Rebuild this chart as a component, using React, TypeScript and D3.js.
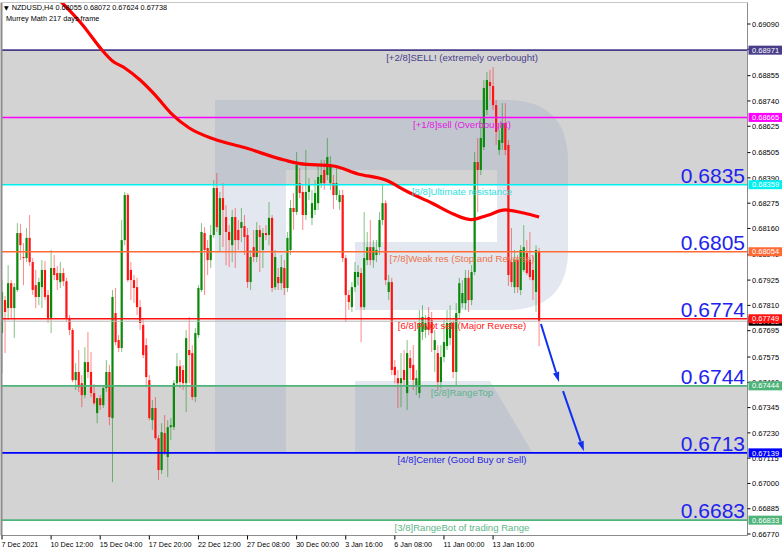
import { scaleLinear, line, curveMonotoneX } from "d3";

// NZDUSD H4, one entry per bar (176 bars)
const OPEN = [
  0.67684, 0.67834, 0.67798, 0.67911, 0.67798, 0.6788, 0.68139, 0.6803, 0.68025, 0.68117,
  0.68007, 0.67902, 0.67848, 0.67893, 0.67971, 0.67857, 0.67753, 0.6798, 0.67957, 0.67916,
  0.67957, 0.6792, 0.67753, 0.67698, 0.6747, 0.67507, 0.67456, 0.67402, 0.67552, 0.67507,
  0.67411, 0.6732, 0.67388, 0.67356, 0.67434, 0.67507, 0.67297, 0.67775, 0.67652, 0.67616,
  0.68107, 0.68312, 0.67971, 0.67925, 0.67893, 0.67802, 0.67721, 0.67629, 0.6747, 0.67288,
  0.67343, 0.67206, 0.67061, 0.67229, 0.6712, 0.67256, 0.67256, 0.67456, 0.67533, 0.67516,
  0.67456, 0.67607, 0.67593, 0.67393, 0.67675, 0.6788, 0.68139, 0.68071, 0.68016, 0.6813,
  0.68344, 0.6813, 0.68298, 0.68212, 0.68144, 0.68084, 0.68212, 0.68153, 0.68162, 0.68171,
  0.6813, 0.67916, 0.68075, 0.6803, 0.68153, 0.68062, 0.68139, 0.6813, 0.68208, 0.67893,
  0.67939, 0.67911, 0.6798, 0.67889, 0.68062, 0.68253, 0.68235, 0.68366, 0.68326, 0.68221,
  0.68326, 0.68208, 0.68244, 0.68275, 0.68366, 0.68426, 0.68403, 0.68366, 0.68366, 0.68312,
  0.6828, 0.68312, 0.68025, 0.67857, 0.67802, 0.67893, 0.67939, 0.67957, 0.67802, 0.68016,
  0.68075, 0.68016, 0.68039, 0.68075, 0.68198, 0.68275, 0.67871, 0.67916, 0.6753, 0.67479,
  0.67456, 0.67516, 0.67411, 0.6757, 0.67539, 0.67447, 0.67411, 0.67689, 0.67698, 0.67757,
  0.67743, 0.67607, 0.67593, 0.67461, 0.67575, 0.67625, 0.67662, 0.6773, 0.67507, 0.67775,
  0.6782, 0.6782, 0.67935, 0.67834, 0.67962, 0.68462, 0.68426, 0.6853, 0.68699, 0.68826,
  0.68808, 0.68721, 0.68517, 0.68549, 0.6864, 0.6854, 0.68007, 0.67893, 0.68016, 0.6788,
  0.67971, 0.68048, 0.68016, 0.67971, 0.67871, 0.68055,
];
const HIGH = [
  0.67925, 0.67853, 0.67993, 0.67925, 0.67911, 0.68184, 0.6818, 0.68093, 0.68162, 0.68221,
  0.68025, 0.67971, 0.67935, 0.68016, 0.68012, 0.6788, 0.68062, 0.68039, 0.67989, 0.68007,
  0.6798, 0.67935, 0.67766, 0.67707, 0.67547, 0.67607, 0.67493, 0.6762, 0.67689, 0.67598,
  0.67452, 0.67388, 0.67402, 0.67443, 0.67561, 0.67539, 0.6788, 0.67889, 0.67675, 0.68198,
  0.68326, 0.68321, 0.68007, 0.67948, 0.67935, 0.67834, 0.67753, 0.67661, 0.67493, 0.67379,
  0.67393, 0.6722, 0.67274, 0.67311, 0.67288, 0.67297, 0.6747, 0.67593, 0.67561, 0.67539,
  0.67698, 0.67757, 0.67629, 0.67707, 0.67902, 0.68184, 0.68166, 0.68107, 0.68175, 0.6838,
  0.68412, 0.68326, 0.68366, 0.68266, 0.68175, 0.68244, 0.68253, 0.68198, 0.68253, 0.68221,
  0.68162, 0.68062, 0.68153, 0.68189, 0.68175, 0.68162, 0.68175, 0.6828, 0.68221, 0.68062,
  0.6798, 0.68039, 0.68016, 0.68144, 0.68289, 0.68321, 0.68508, 0.68435, 0.68357, 0.68517,
  0.68389, 0.68335, 0.6838, 0.68449, 0.68471, 0.68471, 0.68571, 0.68489, 0.68403, 0.6844,
  0.68335, 0.68335, 0.68039, 0.6788, 0.67916, 0.68007, 0.67993, 0.6798, 0.68235, 0.68144,
  0.68198, 0.68107, 0.68107, 0.68235, 0.68357, 0.68289, 0.67948, 0.67935, 0.67561, 0.67516,
  0.67593, 0.67607, 0.67652, 0.67607, 0.67629, 0.67516, 0.67789, 0.67811, 0.67766, 0.67802,
  0.6778, 0.67698, 0.67629, 0.67629, 0.67743, 0.67789, 0.67811, 0.67753, 0.6782, 0.67935,
  0.67925, 0.67971, 0.67971, 0.67993, 0.68508, 0.68571, 0.68662, 0.68835, 0.68872, 0.68881,
  0.68894, 0.68744, 0.68608, 0.6873, 0.6873, 0.68562, 0.68162, 0.68062, 0.68039, 0.68084,
  0.68175, 0.68107, 0.68144, 0.68039, 0.68084, 0.68072,
];
const LOW = [
  0.67502, 0.67593, 0.67743, 0.67753, 0.67662, 0.67871, 0.68016, 0.67902, 0.68007, 0.67989,
  0.67857, 0.67798, 0.67811, 0.67798, 0.67834, 0.6773, 0.67684, 0.67925, 0.6788, 0.67889,
  0.67898, 0.67734, 0.67675, 0.67461, 0.67425, 0.67416, 0.67347, 0.67388, 0.67479, 0.67393,
  0.67356, 0.67274, 0.67334, 0.67343, 0.67416, 0.67265, 0.67006, 0.67629, 0.67598, 0.67598,
  0.68084, 0.67916, 0.67834, 0.67821, 0.67766, 0.67698, 0.6757, 0.67438, 0.67288, 0.67243,
  0.67197, 0.67015, 0.67043, 0.67129, 0.67029, 0.67197, 0.67243, 0.67447, 0.67434, 0.67425,
  0.67325, 0.67456, 0.67379, 0.6737, 0.67662, 0.67871, 0.67857, 0.67948, 0.6798, 0.68117,
  0.68144, 0.68053, 0.68075, 0.67993, 0.67984, 0.68007, 0.6798, 0.68062, 0.68098, 0.68039,
  0.67889, 0.6788, 0.68007, 0.68007, 0.67962, 0.6798, 0.68107, 0.68084, 0.67871, 0.6788,
  0.6788, 0.6788, 0.67857, 0.67871, 0.68039, 0.68153, 0.68221, 0.68298, 0.68153, 0.68198,
  0.68289, 0.68175, 0.68221, 0.68244, 0.68344, 0.68335, 0.6838, 0.68335, 0.68248, 0.68289,
  0.68244, 0.68007, 0.67734, 0.67789, 0.6778, 0.67871, 0.67902, 0.67643, 0.67789, 0.67993,
  0.67993, 0.6798, 0.68007, 0.68039, 0.68175, 0.67902, 0.67834, 0.67493, 0.67456, 0.67343,
  0.67347, 0.67447, 0.67334, 0.6747, 0.67425, 0.67402, 0.67388, 0.67652, 0.67662, 0.67675,
  0.67598, 0.67507, 0.67425, 0.67434, 0.67552, 0.67607, 0.67629, 0.67479, 0.67447, 0.67753,
  0.67798, 0.67789, 0.6778, 0.67811, 0.67948, 0.68235, 0.68403, 0.68517, 0.68676, 0.68744,
  0.68699, 0.6854, 0.68494, 0.68517, 0.68494, 0.67898, 0.67893, 0.67866, 0.67866, 0.67857,
  0.67962, 0.67948, 0.67925, 0.67834, 0.6778, 0.67624,
];
const CLOSE = [
  0.67871, 0.6778, 0.67911, 0.67798, 0.67893, 0.68139, 0.68084, 0.68025, 0.68117, 0.68007,
  0.6788, 0.67848, 0.67916, 0.67971, 0.67848, 0.67753, 0.6798, 0.67948, 0.67925, 0.67957,
  0.6792, 0.67753, 0.67698, 0.6747, 0.67507, 0.67438, 0.67402, 0.67552, 0.67507, 0.67411,
  0.67365, 0.67388, 0.67356, 0.67434, 0.67507, 0.67302, 0.67848, 0.67643, 0.67616, 0.68107,
  0.68312, 0.67925, 0.67925, 0.67889, 0.67802, 0.6773, 0.67584, 0.67484, 0.67297, 0.67343,
  0.67206, 0.67061, 0.67233, 0.67143, 0.67256, 0.67265, 0.67456, 0.67533, 0.67461, 0.67456,
  0.67661, 0.67584, 0.67393, 0.67684, 0.67889, 0.68144, 0.68062, 0.68016, 0.6813, 0.68344,
  0.68166, 0.68298, 0.68244, 0.68144, 0.68107, 0.68212, 0.68107, 0.68107, 0.68189, 0.68121,
  0.67916, 0.6803, 0.6803, 0.68153, 0.68121, 0.68139, 0.6813, 0.68208, 0.67889, 0.6803,
  0.67911, 0.67984, 0.67889, 0.68117, 0.68253, 0.68235, 0.68449, 0.68321, 0.68221, 0.68326,
  0.68357, 0.68275, 0.68321, 0.68394, 0.68403, 0.68366, 0.68485, 0.6844, 0.68312, 0.68366,
  0.68312, 0.68025, 0.67857, 0.67825, 0.67893, 0.67962, 0.67962, 0.67802, 0.68025, 0.68075,
  0.68016, 0.68075, 0.68062, 0.68198, 0.68275, 0.67925, 0.67916, 0.67516, 0.67493, 0.67456,
  0.67479, 0.6747, 0.67593, 0.67525, 0.6747, 0.67479, 0.6773, 0.67757, 0.6773, 0.67698,
  0.67684, 0.67652, 0.67461, 0.67575, 0.67643, 0.6773, 0.6773, 0.67507, 0.67775, 0.67911,
  0.67866, 0.67935, 0.67834, 0.67962, 0.68462, 0.68426, 0.68571, 0.68799, 0.68835, 0.68808,
  0.68721, 0.68599, 0.68562, 0.6864, 0.68517, 0.67948, 0.67916, 0.68016, 0.67893, 0.68062,
  0.68075, 0.67957, 0.67939, 0.67925, 0.68062, 0.67738,
];

// moving average, sampled at bar indices
const MA_BARS = [16, 26, 33, 36, 40, 45, 50, 55, 61, 69, 79, 92, 97, 108, 116, 125, 132, 140, 147, 153, 158, 164, 170, 175];
const MA_VALUES = [
  0.69236, 0.6909, 0.68965, 0.68922, 0.6889, 0.68835, 0.68765, 0.68685, 0.68617, 0.68567, 0.68528, 0.68471,
  0.68455, 0.68444, 0.68408, 0.6838, 0.68328, 0.68276, 0.68226, 0.682, 0.68219, 0.68244, 0.6823, 0.68212,
];

// Murrey Math levels
const LEVEL_PRICES = [0.68971, 0.68665, 0.68359, 0.68054, 0.67749, 0.67444, 0.67139, 0.66833];
const LEVEL_NAMES = [
  "[+2/8]SELL! (extremely overbought)",
  "[+1/8]sell (Overbought)",
  "[8/8]Ultimate resistance",
  "[7/8]Weak res (Stop and Reverse)",
  "[6/8]Pivot sell (Major Reverse)",
  "[5/8]RangeTop",
  "[4/8]Center (Good Buy or Sell)",
  "[3/8]RangeBot of trading Range",
];
const BIG_LABELS = ["", "", "0.6835", "0.6805", "0.6774", "0.6744", "0.6713", "0.6683"];
const BID = 0.67738;

const Y_TICKS = [
  0.6909, 0.68975, 0.68855, 0.6874, 0.68625, 0.68505, 0.6839, 0.68275, 0.6816, 0.6804, 0.67925,
  0.6781, 0.67695, 0.67575, 0.6746, 0.67345, 0.6723, 0.67115, 0.67, 0.66885, 0.6677,
];
const X_TICK_BARS = [0, 16, 32, 48, 64, 80, 96, 112, 128, 144, 160];
const X_TICK_LABELS = [
  "7 Dec 2021", "10 Dec 12:00", "15 Dec 04:00", "17 Dec 20:00", "22 Dec 12:00", "27 Dec 08:00",
  "30 Dec 00:00", "3 Jan 16:00", "6 Jan 08:00", "11 Jan 00:00", "13 Jan 16:00",
];

// forecast arrows: [bar, price] start -> end
const ARROWS = [
  [[175.6, 0.67725], [181.5, 0.67461]],
  [[182.8, 0.6742], [189.6, 0.67147]],
];

const LEVEL_COLORS = ["#483d8b", "#ff00ff", "#00f0f0", "#ff6a35", "#ff1010", "#4fb47a", "#0000ff", "#4fb47a"];
const LEVEL_TEXT = ["#483d8b", "#e020e0", "#30e0e0", "#ee7448", "#ff2020", "#5fb58a", "#2424e0", "#5fb58a"];

const W = 782;
const H = 552;
const PL = 1.5;
const PR = 747.5;
const PT = 2.5;
const PB = 535.5;

const x = scaleLinear().domain([0, 175]).range([2, 539.1]);
const y = scaleLinear().domain([0.6677, 0.6909]).range([534, 24]);

const UP = "#0a8a0a";
const DOWN = "#ff1414";
const AXIS_FONT = "'Liberation Sans', Arial, sans-serif";

function Arrow({ a, b }: { a: number[]; b: number[] }) {
  const x1 = x(a[0]), y1 = y(a[1]), x2 = x(b[0]), y2 = y(b[1]);
  const ang = Math.atan2(y2 - y1, x2 - x1);
  const len = 10, half = 3.2;
  const bx = x2 - len * Math.cos(ang), by = y2 - len * Math.sin(ang);
  const nx = -Math.sin(ang) * half, ny = Math.cos(ang) * half;
  return (
    <g>
      <line x1={x1} y1={y1} x2={bx} y2={by} stroke="#1030f0" strokeWidth={2} />
      <path d={`M${x2},${y2}L${bx + nx},${by + ny}L${bx - nx},${by - ny}Z`} fill="#1030f0" />
    </g>
  );
}

export default function App() {
  const maLine = line<number>()
    .x((_, i) => x(MA_BARS[i]))
    .y((d) => y(d))
    .curve(curveMonotoneX);

  const bw = 2.2;

  return (
    <svg
      width={W}
      height={H}
      viewBox={`0 0 ${W} ${H}`}
      style={{ position: "absolute", left: 0, top: 0, background: "#fff" }}
    >
      <defs>
        <clipPath id="plot">
          <rect x={PL} y={PT} width={PR - PL} height={PB - PT} />
        </clipPath>
      </defs>
      <rect width={W} height={H} fill="#fff" />

      <g clipPath="url(#plot)">
        {/* zones */}
        <rect x={PL} y={y(LEVEL_PRICES[0])} width={PR - PL} height={y(LEVEL_PRICES[2]) - y(LEVEL_PRICES[0])} fill="#d3d3d3" />
        <rect x={PL} y={y(LEVEL_PRICES[5])} width={PR - PL} height={y(LEVEL_PRICES[7]) - y(LEVEL_PRICES[5])} fill="#d3d3d3" />

        {/* watermark */}
        <g fill="#8fa3c4" opacity={0.25}>
          <path d="M215,100H506Q568,100 568,162V250Q568,310 506,310H355V242H497V170H286V452H215Z" />
          <path d="M355,381H490L532,452H355Z" />
        </g>

        {/* candles */}
        {OPEN.map((o, i) => {
          const c = CLOSE[i];
          const cx = x(i);
          const col = c > o ? UP : c < o ? DOWN : "#707070";
          const top = y(Math.max(o, c));
          const bot = y(Math.min(o, c));
          return (
            <g key={i}>
              <line x1={cx} x2={cx} y1={y(HIGH[i])} y2={y(LOW[i])} stroke={col} strokeWidth={1} opacity={0.5} />
              <rect x={cx - bw / 2} y={top} width={bw} height={Math.max(1, bot - top)} fill={col} />
            </g>
          );
        })}

        {/* bid line */}
        <line x1={PL} x2={PR} y1={y(BID)} y2={y(BID)} stroke="#b8b8b8" strokeWidth={1} />

        {/* level lines */}
        {LEVEL_PRICES.map((p, i) => (
          <line key={i} x1={PL} x2={PR} y1={y(p)} y2={y(p)} stroke={LEVEL_COLORS[i]} strokeWidth={1.6} />
        ))}

        {/* moving average */}
        <path d={maLine(MA_VALUES) ?? ""} fill="none" stroke="#ff0000" strokeWidth={3.2} strokeLinejoin="round" />

        {/* level labels */}
        {LEVEL_NAMES.map((t, i) => (
          <text
            key={i}
            x={462}
            y={y(LEVEL_PRICES[i]) + 10.5}
            textAnchor="middle"
            fontFamily="'Liberation Sans', Arial, sans-serif"
            fontSize={9.6}
            fill={LEVEL_TEXT[i]}
          >
            {t}
          </text>
        ))}
        {BIG_LABELS.map((t, i) =>
          t ? (
            <text
              key={i}
              x={745}
              y={y(LEVEL_PRICES[i]) - 2}
              textAnchor="end"
              fontFamily="'Liberation Sans', Arial, sans-serif"
              fontSize={21}
              fill="#2222ee"
            >
              {t}
            </text>
          ) : null,
        )}

        {ARROWS.map((ar, i) => (
          <Arrow key={i} a={ar[0]} b={ar[1]} />
        ))}
      </g>

      {/* header */}
      <text x={4} y={10} fontFamily={AXIS_FONT} fontSize={7.3} fill="#000">
        <tspan fontFamily="'DejaVu Sans', sans-serif" fontSize={6}>▼</tspan>
        <tspan dx={3}>NZDUSD,H4  0.68055 0.68072 0.67624 0.67738</tspan>
      </text>
      <text x={6} y={21} fontFamily={AXIS_FONT} fontSize={7.3} fill="#000">
        Murrey Math 217 days frame
      </text>

      {/* frame */}
      <line x1={PL} x2={PL} y1={PT} y2={PB} stroke="#8c8c8c" strokeWidth={2} />
      <line x1={PR} x2={PR} y1={PT} y2={PB} stroke="#8c8c8c" strokeWidth={1} />
      <line x1={PL} x2={PR} y1={PB} y2={PB} stroke="#8c8c8c" strokeWidth={1} />
      <line x1={PL} x2={PR} y1={PT} y2={PT} stroke="#c8c8c8" strokeWidth={1} />

      {/* right axis */}
      {Y_TICKS.map((v) => (
        <g key={v}>
          <line x1={PR} x2={PR + 3} y1={y(v)} y2={y(v)} stroke="#000" strokeWidth={1} />
          <text x={752} y={y(v)} dy="0.35em" fontFamily={AXIS_FONT} fontSize={7.5} fill="#000">
            {v.toFixed(5)}
          </text>
        </g>
      ))}
      <g>
        <rect x={748.5} y={y(BID) - 4.5} width={33.5} height={9} fill="#000" />
        <text x={752} y={y(BID)} dy="0.35em" fontFamily={AXIS_FONT} fontSize={7.5} fill="#fff">
          {BID.toFixed(5)}
        </text>
      </g>
      {LEVEL_PRICES.map((p, i) => (
        <g key={i}>
          <rect x={748.5} y={y(p) - 4.5} width={33.5} height={9} fill={LEVEL_COLORS[i]} />
          <text x={752} y={y(p)} dy="0.35em" fontFamily={AXIS_FONT} fontSize={7.5} fill="#fff">
            {p.toFixed(5)}
          </text>
        </g>
      ))}

      {/* bottom axis */}
      {X_TICK_BARS.map((b, i) => (
        <g key={b}>
          <line x1={x(b)} x2={x(b)} y1={PB} y2={PB + 4} stroke="#000" strokeWidth={1} />
          <text x={x(b) - 0.5} y={547} fontFamily={AXIS_FONT} fontSize={7.2} fill="#000">
            {X_TICK_LABELS[i]}
          </text>
        </g>
      ))}
    </svg>
  );
}
